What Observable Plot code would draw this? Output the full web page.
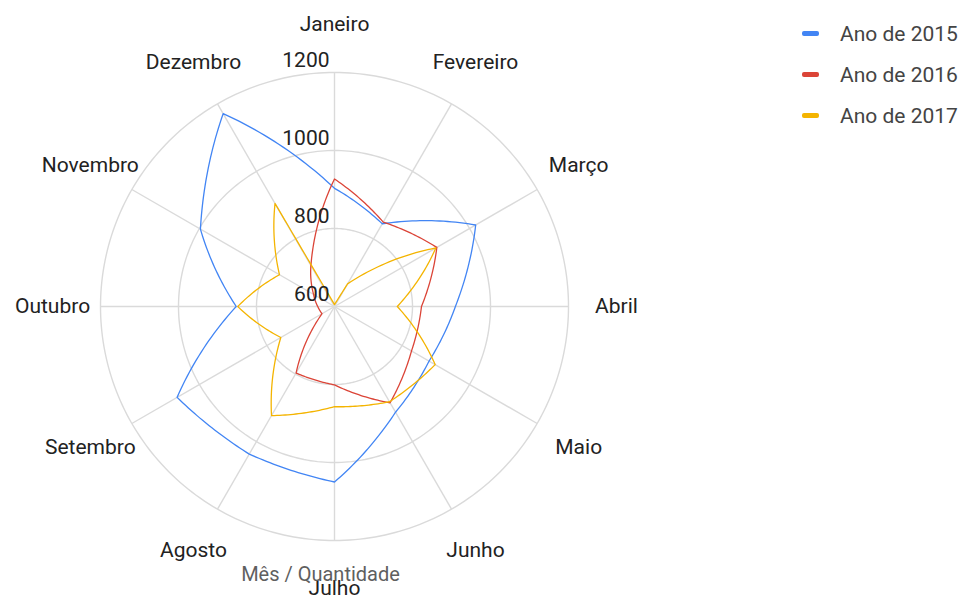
<!DOCTYPE html>
<html lang="pt">
<head>
<meta charset="utf-8">
<script src="https://cdn.jsdelivr.net/npm/d3@7"></script>
<script src="https://cdn.jsdelivr.net/npm/@observablehq/plot@0.6"></script>
<style>
  body { margin: 0; background: #fff; }
  #chart { position: relative; width: 973px; height: 595px; font-family: Roboto, sans-serif; }
  #legend { position: absolute; left: 802px; top: 13px; }
  .row { display: flex; align-items: center; height: 41px; font-size: 21px; color: #444; }
  .sw { width: 17px; height: 5px; border-radius: 2px; margin-right: 21px; }
</style>
</head>
<body>
<div id="chart"><div id="legend"></div></div>
<script>
// Monthly quantities per year, one value per month (January first, clockwise)
const months = ["Janeiro", "Fevereiro", "Março", "Abril", "Maio", "Junho",
                "Julho", "Agosto", "Setembro", "Outubro", "Novembro", "Dezembro"];
const seriesNames = ["Ano de 2015", "Ano de 2016", "Ano de 2017"];
const seriesColors = ["#4285f4", "#db4437", "#f4b400"];
const values2015 = [903, 845, 1018, 910, 880, 913, 1050, 1037, 1066, 852, 997, 1171];
const values2016 = [927, 850, 903, 823, 828, 885, 801, 797, 637, 643, 662, 721];
const values2017 = [605, 667, 900, 761, 898, 882, 857, 923, 759, 848, 763, 905];
const radialTicks = [600, 800, 1000, 1200];
const axisTitle = "Mês / Quantidade";

// Radial value axis: the centre is the lowest tick, the outer ring the highest
const base = radialTicks[0];
const outer = radialTicks[radialTicks.length - 1];
const labelValue = 1323; // where the month names sit, in value units

const W = 973, H = 595;
const M = {left: 100, right: 405, top: 72, bottom: 55};
const cx = M.left + (W - M.left - M.right) / 2;
const cy = M.top + (H - M.top - M.bottom) / 2;

const angle = i => (i * 2 * Math.PI) / months.length;
const px = (i, v) => (v - base) * Math.sin(angle(i));
const py = (i, v) => (v - base) * Math.cos(angle(i));

// Closed curve whose segments are pulled toward arcs around the chart centre.
// bend = 0 gives straight segments, bend = 1 follows the polar path exactly.
function radialCurve(bend) {
  return function (context) {
    let pts;
    return {
      areaStart() {}, areaEnd() {},
      lineStart() { pts = []; },
      point(x, y) { pts.push([+x, +y]); },
      lineEnd() {
        const n = pts.length;
        if (!n) return;
        context.moveTo(pts[0][0], pts[0][1]);
        for (let i = 1; i <= n; i++) {
          const [x0, y0] = pts[i - 1];
          const [x1, y1] = pts[i % n];
          const r0 = Math.hypot(x0 - cx, y0 - cy), r1 = Math.hypot(x1 - cx, y1 - cy);
          const a0 = Math.atan2(x0 - cx, cy - y0), a1 = Math.atan2(x1 - cx, cy - y1);
          let da = a1 - a0;
          while (da > Math.PI) da -= 2 * Math.PI;
          while (da < -Math.PI) da += 2 * Math.PI;
          const steps = 24;
          for (let k = 1; k <= steps; k++) {
            const t = k / steps;
            let x = x0 + (x1 - x0) * t, y = y0 + (y1 - y0) * t;
            if (r0 > 3 && r1 > 3) {
              const a = a0 + da * t, r = r0 + (r1 - r0) * t;
              const qx = cx + r * Math.sin(a), qy = cy - r * Math.cos(a);
              x += (qx - x) * bend;
              y += (qy - y) * bend;
            }
            context.lineTo(x, y);
          }
        }
        context.closePath();
      }
    };
  };
}

const seriesValues = [values2015, values2016, values2017];
const rows = seriesValues.flatMap((vals, s) =>
  vals.map((v, i) => ({serie: seriesNames[s], i, value: v})));
const ringRows = radialTicks.slice(1).flatMap(t => months.map((m, i) => ({ring: t, i})));
const spokes = months.map((m, i) => ({i}));

const plot = Plot.plot({
  width: W, height: H,
  marginLeft: M.left, marginRight: M.right, marginTop: M.top, marginBottom: M.bottom,
  style: {fontFamily: "Roboto, sans-serif", background: "#fff", overflow: "visible"},
  x: {domain: [base - outer, outer - base], axis: null},
  y: {domain: [base - outer, outer - base], axis: null},
  color: {domain: seriesNames, range: seriesColors},
  marks: [
    Plot.link(spokes, {
      x1: 0, y1: 0,
      x2: d => px(d.i, outer), y2: d => py(d.i, outer),
      stroke: "#dadada", strokeWidth: 1.4
    }),
    Plot.line(ringRows, {
      x: d => px(d.i, d.ring), y: d => py(d.i, d.ring), z: "ring",
      curve: radialCurve(1), stroke: "#dadada", strokeWidth: 1.4
    }),
    Plot.line(rows, {
      x: d => px(d.i, d.value), y: d => py(d.i, d.value), z: "serie",
      stroke: "serie", curve: radialCurve(0.4), strokeWidth: 1.3
    }),
    Plot.text(radialTicks, {
      x: 0, y: d => d - base, text: d => String(d),
      textAnchor: "end", dx: -5, dy: -12, fontSize: 21, fill: "#222"
    }),
    Plot.text(months, {
      x: (d, i) => px(i, labelValue), y: (d, i) => py(i, labelValue),
      text: d => d, fontSize: 21, fill: "#222"
    }),
    Plot.text([axisTitle], {
      frameAnchor: "bottom", dx: -14, dy: 40, text: d => d,
      fontSize: 20, fill: "#5f5f5f"
    })
  ]
});

const chart = document.getElementById("chart");
chart.insertBefore(plot, chart.firstChild);

const legend = d3.select("#legend");
seriesNames.forEach((name, s) => {
  const row = legend.append("div").attr("class", "row");
  row.append("div").attr("class", "sw").style("background", seriesColors[s]);
  row.append("span").text(name);
});
</script>
</body>
</html>
